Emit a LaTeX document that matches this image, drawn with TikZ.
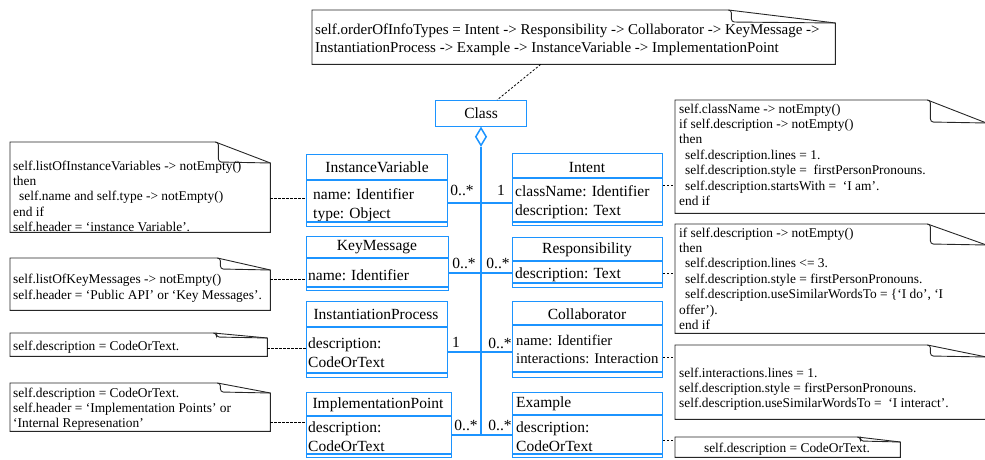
\documentclass[tikz,border=0pt]{standalone}
\usepackage{fontspec}
\setmainfont{Liberation Serif}
\usetikzlibrary{shapes.geometric, calc}

\definecolor{umlblue}{RGB}{28,148,255}

% nota con esquina doblada
\newcommand{\foldnote}[3]{%
  \draw[noteline] (#1.north west) -- ([xshift=-#2]#1.north east) -- ([yshift=-#3]#1.north east)
    -- (#1.south east) -- (#1.south west) -- cycle;
  \draw[noteline, rounded corners=3pt] ([xshift=-#2]#1.north east) -- ([xshift=3pt-#2]#1.north east)
    -- ([xshift=3pt-#2, yshift=1pt-#3]#1.north east) -- ([yshift=-#3]#1.north east);
}

\tikzset{
  cls/.style={draw=umlblue, line width=1.1pt, inner sep=0pt, anchor=north west},
  clsline/.style={umlblue, line width=1.1pt},
  hdr/.style={font=\fontsize{15.5}{19}\selectfont, inner sep=0pt},
  attr/.style={font=\fontsize{15.5}{19}\selectfont, inner sep=0pt, align=left, anchor=north west},
  mult/.style={font=\fontsize{15.5}{19}\selectfont, inner sep=0pt},
  assoc/.style={umlblue, line width=1.2pt},
  bus/.style={umlblue, line width=2pt},
  notefr/.style={inner sep=0pt, anchor=north west},
  noteline/.style={black!85, line width=0.9pt},
  notetxt/.style={font=\fontsize{13.4}{15.4}\selectfont, inner sep=0pt, align=left, anchor=north west},
  anchorline/.style={dash pattern=on 2.2pt off 1.8pt, line width=0.8pt},
}

\begin{document}
\begin{tikzpicture}[x=1pt, y=-1pt]
  \useasboundingbox (0,0) rectangle (985,460);

  % clase raiz y agregacion
  \node[cls, minimum width=91pt, minimum height=26pt] (klass) at (435,100) {};
  \node[hdr] (klassT) at (klass.center) {Class};
  \node[diamond, draw=umlblue, line width=1.5pt, fill=white, inner sep=0pt,
        minimum width=11pt, minimum height=18pt, anchor=north] (agg) at (481,127) {};
  \coordinate (busEnd) at (481,435);
  \draw[bus] (agg.south) -- (busEnd);

  % clases de la izquierda
  \node[cls, minimum width=141pt, minimum height=72pt] (iv) at (306,154) {};
  \node[hdr] (ivT) at (377,167) {InstanceVariable};
  \node[attr] (ivA) at (313,188) {name: Identifier\\type: Object};
  \node[cls, minimum width=142pt, minimum height=54pt] (km) at (306,236) {};
  \node[hdr] (kmT) at (377,247) {KeyMessage};
  \node[attr] (kmA) at (308,269) {name: Identifier};
  \node[cls, minimum width=141pt, minimum height=76pt] (ip) at (306,301) {};
  \node[hdr] (ipT) at (376,314) {InstantiationProcess};
  \node[attr] (ipA) at (308,338) {description:\\CodeOrText};
  \node[cls, minimum width=145pt, minimum height=65pt] (imp) at (306,392) {};
  \node[hdr] (impT) at (378,405) {ImplementationPoint};
  \node[attr] (impA) at (308,422) {description:\\CodeOrText};

  % clases de la derecha
  \node[cls, minimum width=150pt, minimum height=72pt] (intent) at (512,153) {};
  \node[hdr] (intentT) at (587,167) {Intent};
  \node[attr] (intentA) at (515,185) {className: Identifier\\description: Text};
  \node[cls, minimum width=150pt, minimum height=50pt] (resp) at (512,237) {};
  \node[hdr] (respT) at (587,250) {Responsibility};
  \node[attr] (respA) at (515,268) {description: Text};
  \node[cls, minimum width=150pt, minimum height=76pt] (coll) at (512,301) {};
  \node[hdr] (collT) at (587,314) {Collaborator};
  \node[attr, font=\fontsize{14.8}{18}\selectfont] (collA) at (516,335)
    {name: Identifier\\interactions: Interaction};
  \node[cls, minimum width=150pt, minimum height=65pt] (ex) at (512,392) {};
  \node[hdr, anchor=west] (exT) at (516,404) {Example};
  \node[attr] (exA) at (516,422) {description:\\CodeOrText};

  % compartimentos
  \foreach \c/\h/\b in {iv/180/222, km/258/287, ip/327/373, imp/416/454,
                        intent/178/222, resp/261/283, coll/325/372, ex/415/454}
    \draw[clsline] (\c.west |- 0,\h) -- (\c.east |- 0,\h) (\c.west |- 0,\b) -- (\c.east |- 0,\b);

  % asociaciones
  \draw[assoc] (iv.east |- 0,203) -- (intent.west |- 0,203);
  \draw[assoc] (km.east |- 0,273) -- (resp.west |- 0,273);
  \draw[assoc] (ip.east |- 0,352) -- (coll.west |- 0,352);
  \draw[assoc] (imp.east |- 0,435) -- (ex.west |- 0,435);
  \node[mult] (m1) at (462,190) {0..*};
  \node[mult] (m2) at (501,190) {1};
  \node[mult] (m3) at (464,263) {0..*};
  \node[mult] (m4) at (498,263) {0..*};
  \node[mult] (m5) at (456,342) {1};
  \node[mult] (m6) at (500,343) {0..*};
  \node[mult] (m7) at (466,425) {0..*};
  \node[mult] (m8) at (500,425) {0..*};

  % notas
  \node[notefr, minimum width=523pt, minimum height=54pt] (nTop) at (312,10) {};
  \node[notetxt, font=\fontsize{15}{18}\selectfont] (nTopT) at (315,23.5)
    {self.orderOfInfoTypes = Intent -> Responsibility -> Collaborator -> KeyMessage ->\\
     InstantiationProcess -> Example -> InstanceVariable -> ImplementationPoint};
  \node[notefr, minimum width=260pt, minimum height=90pt] (nIV) at (10,142) {};
  \node[notetxt] (nIVT) at (13,160.5)
    {self.listOfInstanceVariables -> notEmpty()\\then\\
     \hspace*{6pt}self.name and self.type -> notEmpty()\\end if\\
     self.header = ‘instance Variable’.};
  \node[notefr, minimum width=260pt, minimum height=52pt] (nKM) at (10,258) {};
  \node[notetxt] (nKMT) at (13,274)
    {self.listOfKeyMessages -> notEmpty()\\self.header = ‘Public API’ or ‘Key Messages’.};
  \node[notefr, minimum width=257pt, minimum height=23pt] (nIP) at (10,333) {};
  \node[notetxt] (nIPT) at (13,340.5) {self.description = CodeOrText.};
  \node[notefr, minimum width=260pt, minimum height=48pt] (nImp) at (10,383) {};
  \node[notetxt] (nImpT) at (13,387.5)
    {self.description = CodeOrText.\\self.header = ‘Implementation Points’ or\\‘Internal Represenation’};
  \node[notefr, minimum width=311pt, minimum height=113pt] (nIntent) at (675,100) {};
  \node[notetxt] (nIntentT) at (679,103.5)
    {self.className -> notEmpty()\\if self.description -> notEmpty()\\then\\
     \hspace*{6pt}self.description.lines = 1.\\
     \hspace*{6pt}self.description.style = \ firstPersonPronouns.\\
     \hspace*{6pt}self.description.startsWith = \ ‘I am’.\\end if};
  \node[notefr, minimum width=311pt, minimum height=109pt] (nResp) at (675,224) {};
  \node[notetxt] (nRespT) at (679,227.5)
    {if self.description -> notEmpty()\\then\\
     \hspace*{6pt}self.description.lines <= 3.\\
     \hspace*{6pt}self.description.style = firstPersonPronouns.\\
     \hspace*{6pt}self.description.useSimilarWordsTo = \{‘I do’, ‘I\\offer’).\\end if};
  \node[notefr, minimum width=311pt, minimum height=74pt] (nColl) at (675,345) {};
  \node[notetxt] (nCollT) at (679,367.5)
    {self.interactions.lines = 1.\\self.description.style = firstPersonPronouns.\\
     self.description.useSimilarWordsTo = \ ‘I interact’.};
  \node[notefr, minimum width=225pt, minimum height=20pt] (nEx) at (675,437) {};
  \node[notetxt, anchor=center] (nExT) at (787,449) {self.description = CodeOrText.};

  \foreach \n/\w/\d in {nTop/107/13, nIV/55/21, nKM/53/12, nIP/54/5, nImp/53/10,
                        nIntent/59/23, nResp/59/21, nColl/59/12, nEx/43/5}
    \foldnote{\n}{\w pt}{\d pt};

  % anclas de las notas
  \draw[anchorline] ([xshift=-33pt]nTop.south) -- ([xshift=16pt]klass.north);
  \draw[anchorline] (nIV.east |- 0,198) -- (iv.west |- 0,198);
  \draw[anchorline] (nKM.east |- 0,279) -- (km.west |- 0,279);
  \draw[anchorline] (nIP.east |- 0,348) -- (ip.west |- 0,348);
  \draw[anchorline] (nImp.east |- 0,422) -- (imp.west |- 0,422);
  \draw[anchorline] (intent.east |- 0,185) -- (nIntent.west |- 0,185);
  \draw[anchorline] (resp.east |- 0,273) -- (nResp.west |- 0,273);
  \draw[anchorline] (coll.east |- 0,357) -- (nColl.west |- 0,357);
  \draw[anchorline] (ex.east |- 0,440) -- (nEx.west |- 0,440);
\end{tikzpicture}
\end{document}
